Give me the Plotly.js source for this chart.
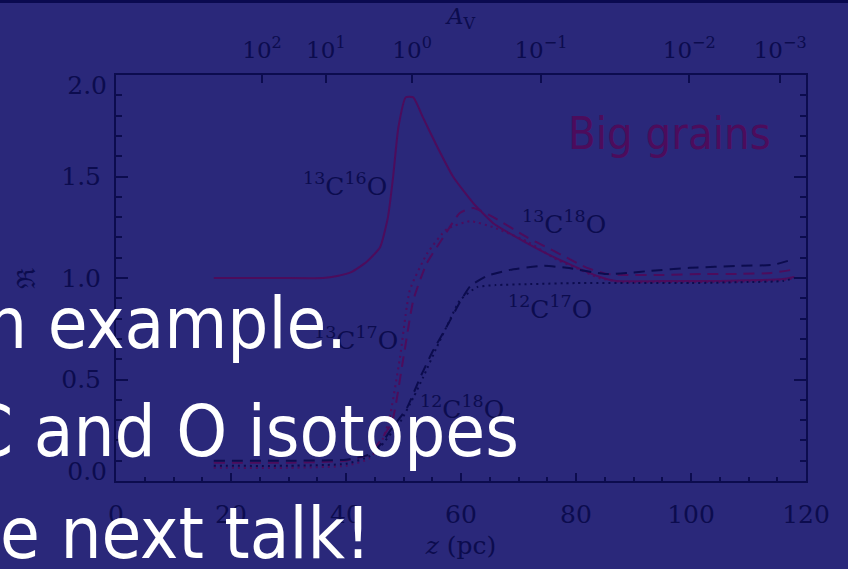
<!DOCTYPE html>
<html>
<head>
<meta charset="utf-8">
<script src="https://cdn.plot.ly/plotly-3.0.1.min.js"></script>
<style>
html,body{margin:0;padding:0;background:rgb(42,40,122);overflow:hidden;}
#chart{width:848px;height:569px;}
</style>
</head>
<body>
<div id="chart"></div>
<script>
// ---- data ----
const z_13C16O = [17, 28, 36, 38.5, 41, 43.6, 45.9, 47.3, 48.2, 49.1, 50.4, 51.7, 53.4, 55.8, 58.6, 62.1, 65.6, 70.3, 74.9, 79.5, 84.2, 87, 95, 105, 112, 116, 118];
const R_13C16O = [1.0, 1.0, 1.0, 1.01, 1.03, 1.08, 1.15, 1.30, 1.50, 1.74, 1.89, 1.89, 1.79, 1.65, 1.50, 1.37, 1.27, 1.19, 1.12, 1.06, 1.005, 0.985, 0.985, 0.985, 0.99, 0.995, 1.005];

const z_13C18O = [17, 30, 40, 44, 46, 48, 50, 51.7, 54, 56.9, 59.8, 62.1, 65.6, 71.5, 75, 78.4, 81.9, 85.4, 88.9, 95, 102, 108.5, 114, 117.5];
const R_13C18O = [0.09, 0.09, 0.10, 0.13, 0.20, 0.29, 0.61, 0.89, 1.07, 1.20, 1.32, 1.345, 1.30, 1.20, 1.15, 1.10, 1.05, 1.02, 1.015, 1.015, 1.02, 1.02, 1.025, 1.04];

const z_13C17O = [17, 30, 40, 44, 46, 47.5, 49.4, 51.1, 54.1, 57.5, 61.6, 65.6, 71.5, 76.7, 80, 84, 88, 95, 105, 112, 116, 118];
const R_13C17O = [0.065, 0.065, 0.075, 0.11, 0.18, 0.30, 0.61, 0.94, 1.12, 1.24, 1.28, 1.25, 1.18, 1.09, 1.05, 1.0, 0.98, 0.98, 0.98, 0.985, 0.99, 1.0];

const z_12C18O = [17, 30, 40, 44, 46, 48, 50.6, 52.9, 55.1, 57.5, 59.8, 61.6, 64.5, 68.5, 74.3, 78.4, 85, 88.9, 92.9, 99.8, 108.5, 114.3, 117.5];
const R_12C18O = [0.10, 0.10, 0.105, 0.13, 0.18, 0.26, 0.36, 0.51, 0.64, 0.76, 0.88, 0.96, 1.01, 1.04, 1.06, 1.05, 1.02, 1.025, 1.035, 1.05, 1.06, 1.065, 1.09];

const z_12C17O = [17, 30, 40, 44, 46, 48, 49.4, 51.7, 53.4, 55.8, 58, 59.8, 62.8, 66, 72, 80, 90, 100, 110, 116, 118];
const R_12C17O = [0.075, 0.075, 0.085, 0.12, 0.17, 0.24, 0.29, 0.41, 0.51, 0.66, 0.79, 0.89, 0.955, 0.965, 0.97, 0.975, 0.975, 0.975, 0.98, 0.985, 1.0];

const xTickVals = [0, 20, 40, 60, 80, 100, 120];
const yTickVals = [0.5, 1.0, 1.5];
const yTickText = ['0.5', '1.0', '1.5'];
const avTickZ = [25.4, 36.5, 51.5, 73.9, 99.7, 115.5];
const avTickText = ['10<sup>2</sup>', '10<sup>1</sup>', '10<sup>0</sup>', '10<sup>−1</sup>', '10<sup>−2</sup>', '10<sup>−3</sup>'];

const slideLines = ['n example.', 'C and O isotopes', 'e next talk!'];

// ---- styles ----
const bg = 'rgb(42,40,122)';
const navy = 'rgb(12,12,78)';
const purple = 'rgb(76,12,92)';
const serif = 'DejaVu Serif, serif';
const lw = 2;
const sm = {shape: 'spline', smoothing: 0.5};

const traces = [
  {x: z_13C16O, y: R_13C16O, mode: 'lines', line: Object.assign({color: purple, width: lw}, sm)},
  {x: z_13C18O, y: R_13C18O, mode: 'lines', line: Object.assign({color: purple, width: lw, dash: '11px,7px'}, sm)},
  {x: z_13C17O, y: R_13C17O, mode: 'lines', line: Object.assign({color: purple, width: lw, dash: '2px,4px'}, sm)},
  {x: z_12C18O, y: R_12C18O, mode: 'lines', line: Object.assign({color: navy, width: lw, dash: '11px,7px'}, sm)},
  {x: z_12C17O, y: R_12C17O, mode: 'lines', line: Object.assign({color: navy, width: lw, dash: '2px,4px'}, sm)},
  // carriers for the extra axes
  {x: [0, 120], y: [null, null], xaxis: 'x2', yaxis: 'y', mode: 'lines', hoverinfo: 'skip'},
  {x: [0, 120], y: [null, null], xaxis: 'x', yaxis: 'y2', mode: 'lines', hoverinfo: 'skip'},
  {x: [0, 120], y: [null, null], xaxis: 'x', yaxis: 'y3', mode: 'lines', hoverinfo: 'skip'}
];
traces.forEach(t => { t.showlegend = false; });

const tickFont = {family: serif, size: 25, color: navy};

const curveLabels = [
  {x: 39.8, y: 1.46, text: '<sup>13</sup>C<sup>16</sup>O'},
  {x: 77.9, y: 1.275, text: '<sup>13</sup>C<sup>18</sup>O'},
  {x: 75.5, y: 0.857, text: '<sup>12</sup>C<sup>17</sup>O'},
  {x: 41.7, y: 0.70, text: '<sup>13</sup>C<sup>17</sup>O'},
  {x: 60.2, y: 0.36, text: '<sup>12</sup>C<sup>18</sup>O'}
].map(a => Object.assign(a, {xref: 'x', yref: 'y', showarrow: false, font: {family: serif, size: 25, color: navy}}));

const bigGrains = {x: 96.2, y: 1.71, xref: 'x', yref: 'y', text: 'Big grains', showarrow: false,
  font: {family: 'DejaVu Sans Condensed, DejaVu Sans, sans-serif', size: 45, color: purple}};

const slideShifts = [[-132, 158], [-150, 50], [-118, -52]];
const slideAnn = slideLines.map((t, i) => ({
  text: t, xref: 'paper', yref: 'paper', x: 0, y: 0, xanchor: 'left', yanchor: 'middle',
  xshift: slideShifts[i][0], yshift: slideShifts[i][1], showarrow: false,
  font: {family: 'DejaVu Sans Condensed, DejaVu Sans, sans-serif', size: 72, color: '#ffffff'}
}));

const layout = {
  width: 848, height: 569,
  margin: {l: 116, r: 42, t: 75, b: 88},
  paper_bgcolor: bg, plot_bgcolor: bg,
  showlegend: false,
  xaxis: {
    range: [0, 120], tickvals: xTickVals, ticks: 'inside', ticklen: 8, tickwidth: 2, tickcolor: navy,
    minor: {dtick: 5, tick0: 0, ticklen: 4, tickwidth: 2, tickcolor: navy, ticks: 'inside'},
    showline: true, linecolor: navy, linewidth: 2, mirror: true, showgrid: false, zeroline: false,
    tickfont: tickFont, ticklabelstandoff: 10,
    title: {text: '<i>z</i> (pc)', font: {family: serif, size: 25, color: navy}, standoff: 8}
  },
  xaxis2: {
    range: [0, 120], overlaying: 'x', side: 'top', anchor: 'y',
    tickmode: 'array', tickvals: avTickZ, ticktext: avTickText, ticks: 'inside', ticklen: 8, tickwidth: 2, tickcolor: navy,
    showline: true, linecolor: navy, linewidth: 2, showgrid: false, zeroline: false,
    tickfont: {family: serif, size: 23, color: navy}, ticklabelstandoff: 6,
    title: {text: '<i>A</i><sub>V</sub>', font: {family: serif, size: 23, color: navy}, standoff: 2}
  },
  yaxis: {
    range: [0, 2], tickmode: 'array', tickvals: yTickVals, ticktext: yTickText,
    ticks: 'inside', ticklen: 12, tickwidth: 2, tickcolor: navy,
    minor: {dtick: 0.1, tick0: 0, ticklen: 6, tickwidth: 2, tickcolor: navy, ticks: 'inside'},
    showline: true, linecolor: navy, linewidth: 2, mirror: 'ticks', showgrid: false, zeroline: false,
    tickfont: tickFont, ticklabelstandoff: 8,
    title: {text: 'ℜ', font: {family: serif, size: 25, color: navy}, standoff: 18}
  },
  yaxis2: {
    range: [0, 2], overlaying: 'y', side: 'left', anchor: 'x', tickmode: 'array', tickvals: [2], ticktext: ['2.0'],
    ticks: '', showline: false, showgrid: false, zeroline: false, tickfont: tickFont, ticklabelstandoff: 8, ticklabelshift: 10
  },
  yaxis3: {
    range: [0, 2], overlaying: 'y', side: 'left', anchor: 'x', tickmode: 'array', tickvals: [0], ticktext: ['0.0'],
    ticks: '', showline: false, showgrid: false, zeroline: false, tickfont: tickFont, ticklabelstandoff: 8, ticklabelshift: -10
  },
  shapes: [
    {type: 'rect', xref: 'paper', yref: 'paper', x0: -0.2, x1: 1.2, y0: 1 + 72/406, y1: 1 + 80/406,
     fillcolor: 'rgb(10,10,80)', line: {width: 0}, layer: 'above'}
  ],
  annotations: curveLabels.concat([bigGrains]).concat(slideAnn)
};

Plotly.newPlot('chart', traces, layout, {staticPlot: true});
</script>
</body>
</html>
